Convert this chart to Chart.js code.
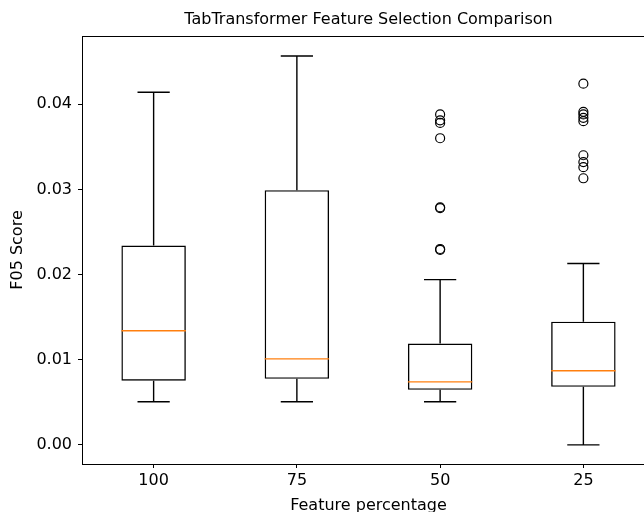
<!DOCTYPE html>
<html>
<head>
<meta charset="utf-8">
<script src="https://cdn.jsdelivr.net/npm/chart.js@4/dist/chart.umd.min.js"></script>
<style>
  html, body { margin: 0; padding: 0; background: #fff; overflow: hidden; }
  #wrap { width: 644px; height: 512px; overflow: hidden; }
  canvas { display: block; }
</style>
</head>
<body>
<div id="wrap"><canvas id="chart" width="680" height="516"></canvas></div>
<script>
// --- box plot data ---
const categories = ['100', '75', '50', '25'];
const q1Values = [0.00753, 0.00776, 0.00647, 0.00682];
const q3Values = [0.0234, 0.0299, 0.0119, 0.01447];
const medianValues = [0.0134, 0.0101, 0.0074, 0.0087];
const whiskerLow = [0.00506, 0.00506, 0.00506, 0.0];
const whiskerHigh = [0.0414, 0.04565, 0.0194, 0.0213];
const outliers100 = [];
const outliers75 = [];
const outliers50 = [0.0388, 0.0381, 0.0378, 0.0360, 0.0279, 0.0278, 0.0230, 0.0229];
const outliers25 = [0.0424, 0.0391, 0.0388, 0.0384, 0.0380, 0.0340, 0.0332, 0.0326, 0.0313];
const yTicks = [0.00, 0.01, 0.02, 0.03, 0.04];

const FONT = "'DejaVu Sans', sans-serif";
const TITLE = 'TabTransformer Feature Selection Comparison';
const outlierSets = [outliers100, outliers75, outliers50, outliers25];
const outlierPoints = [];
outlierSets.forEach((list, i) => list.forEach(v => outlierPoints.push({ x: categories[i], y: v })));

// whiskers, caps, medians, frame and title (centred on the axes) drawn from the scales
const boxExtras = {
    id: 'boxExtras',
    afterDatasetsDraw(chart) {
        const { ctx, scales: { x, y }, chartArea } = chart;
        const slot = x.getPixelForValue(1) - x.getPixelForValue(0);
        const boxHalf = slot * 0.45 / 2;
        const capHalf = boxHalf / 2;
        ctx.save();
        ctx.lineWidth = 1.4;
        categories.forEach((c, i) => {
            const cx = x.getPixelForValue(i);
            const yq1 = y.getPixelForValue(q1Values[i]);
            const yq3 = y.getPixelForValue(q3Values[i]);
            const ylo = y.getPixelForValue(whiskerLow[i]);
            const yhi = y.getPixelForValue(whiskerHigh[i]);
            ctx.strokeStyle = '#000';
            ctx.beginPath();
            ctx.moveTo(cx, yq1); ctx.lineTo(cx, ylo);
            ctx.moveTo(cx - capHalf, ylo); ctx.lineTo(cx + capHalf, ylo);
            ctx.moveTo(cx, yq3); ctx.lineTo(cx, yhi);
            ctx.moveTo(cx - capHalf, yhi); ctx.lineTo(cx + capHalf, yhi);
            ctx.stroke();
            const ym = y.getPixelForValue(medianValues[i]);
            ctx.strokeStyle = '#ff7f0e';
            ctx.beginPath();
            ctx.moveTo(cx - boxHalf, ym); ctx.lineTo(cx + boxHalf, ym);
            ctx.stroke();
        });
        ctx.strokeStyle = '#000';
        ctx.lineWidth = 1;
        ctx.strokeRect(chartArea.left + 0.5, chartArea.top + 0.5,
            chartArea.right - chartArea.left, chartArea.bottom - chartArea.top);

        ctx.fillStyle = '#000';
        ctx.font = '16px ' + FONT;
        ctx.textAlign = 'center';
        ctx.textBaseline = 'middle';
        ctx.fillText(TITLE, (chartArea.left + chartArea.right) / 2, 20);
        ctx.restore();
    }
};

const ctx = document.getElementById('chart').getContext('2d');
new Chart(ctx, {
    data: {
        labels: categories,
        datasets: [
            {
                type: 'bar',
                data: q1Values.map((v, i) => [v, q3Values[i]]),
                backgroundColor: 'rgba(255,255,255,0)',
                borderColor: '#000',
                borderWidth: 1.4,
                borderSkipped: false,
                categoryPercentage: 1,
                barPercentage: 0.45
            },
            {
                type: 'line',
                data: outlierPoints,
                showLine: false,
                pointStyle: 'circle',
                pointRadius: 4.5,
                pointBorderWidth: 1.2,
                pointBorderColor: '#000',
                pointBackgroundColor: 'rgba(0,0,0,0)'
            }
        ]
    },
    options: {
        responsive: false,
        animation: false,
        layout: { padding: { left: 0, right: 25, top: 36, bottom: 0 } },
        plugins: {
            legend: { display: false },
            tooltip: { enabled: false },
            title: { display: false }
        },
        scales: {
            x: {
                type: 'category',
                offset: true,
                grid: { display: true, drawOnChartArea: false, drawTicks: true, tickLength: 4, color: '#000', offset: false },
                border: { display: true, color: '#000' },
                ticks: { color: '#000', font: { family: FONT, size: 16 }, padding: 3, maxRotation: 0 },
                title: { display: true, text: 'Feature percentage', color: '#000', font: { family: FONT, size: 16 }, padding: { top: 2, bottom: 1 } },
                afterFit: s => { s.height = 52; }
            },
            y: {
                min: -0.00224,
                max: 0.048,
                afterBuildTicks: s => { s.ticks = yTicks.map(v => ({ value: v })); },
                grid: { display: true, drawOnChartArea: false, drawTicks: true, tickLength: 4, color: '#000' },
                border: { display: true, color: '#000' },
                ticks: { color: '#000', font: { family: FONT, size: 16 }, padding: 6, callback: v => v.toFixed(2) },
                title: { display: true, text: 'F05 Score', color: '#000', font: { family: FONT, size: 16 }, padding: { top: 8, bottom: 4 } },
                afterFit: s => { s.width = 82; }
            }
        }
    },
    plugins: [boxExtras]
});
</script>
</body>
</html>
